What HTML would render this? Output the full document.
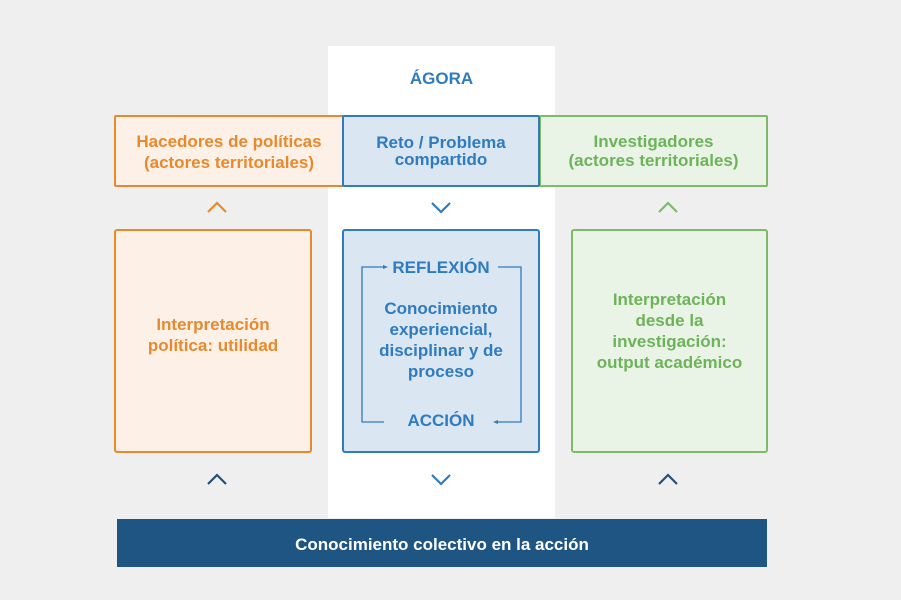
<!DOCTYPE html>
<html><head><style>
body{margin:0;width:901px;height:600px;background:#efefef;position:relative;font-family:"Liberation Sans",sans-serif;font-weight:bold;overflow:hidden}
.a{position:absolute;box-sizing:border-box;display:flex;align-items:center;justify-content:center;text-align:center}
</style></head><body>
<div class="a" style="left:328px;top:46px;width:227px;height:472px;background:#fff"></div>
<div class="a" style="left:328px;top:66px;width:227px;height:26px;color:#2f7bbf;font-size:17px">ÁGORA</div>
<div class="a" style="left:114px;top:115px;width:230px;height:72px;border:2px solid #e8892e;background:#fdf1e7;color:#e8892e;font-size:17px;line-height:21px;border-radius:2px;padding-top:2px">Hacedores de políticas<br>(actores territoriales)</div>
<div class="a" style="left:539px;top:115px;width:229px;height:72px;border:2px solid #7dbb68;background:#eaf4e6;color:#6db35a;font-size:17px;line-height:19px;border-radius:2px">Investigadores<br>(actores territoriales)</div>
<div class="a" style="left:342px;top:115px;width:198px;height:72px;border:2px solid #2f7bbf;background:#dae6f1;color:#2f7bbf;font-size:17px;line-height:17px;border-radius:2px">Reto / Problema<br>compartido</div>
<div class="a" style="left:114px;top:229px;width:198px;height:224px;border:2px solid #e8892e;background:#fdf1e7;color:#e8892e;font-size:17px;line-height:21px;border-radius:3px;padding-bottom:12px">Interpretación<br>política: utilidad</div>
<div class="a" style="left:571px;top:229px;width:197px;height:224px;border:2px solid #7dbb68;background:#eaf4e6;color:#6db35a;font-size:17px;line-height:21px;border-radius:3px;padding-bottom:20px">Interpretación<br>desde la<br>investigación:<br>output académico</div>
<div class="a" style="left:342px;top:229px;width:198px;height:224px;border:2px solid #2f7bbf;background:#dae6f1;color:#2f7bbf;font-size:17px;line-height:21px;border-radius:3px"><span style="position:relative;top:-1px">Conocimiento<br>experiencial,<br>disciplinar y de<br>proceso</span></div>
<div class="a" style="left:342px;top:257px;width:198px;height:22px;color:#2f7bbf;font-size:17px">REFLEXIÓN</div>
<div class="a" style="left:342px;top:410px;width:198px;height:22px;color:#2f7bbf;font-size:17px">ACCIÓN</div>
<svg class="a" style="left:0;top:0" width="901" height="600">
<g fill="none" stroke="#2f7bbf" stroke-width="1.3">
<polyline points="383,267 362,267 362,422 384,422"/>
<polyline points="498,267 521,267 521,422 496,422"/>
</g>
<polygon points="388,267 383,265 383,269" fill="#2f7bbf"/>
<polygon points="493,422 498,420 498,424" fill="#2f7bbf"/>
<g fill="none" stroke-width="2.2">
<polyline points="208,212 217,203 226,212" stroke="#e8892e"/>
<polyline points="432,203 441,212 450,203" stroke="#2f7bbf"/>
<polyline points="659,212 668,203 677,212" stroke="#7dbb68"/>
<polyline points="208,484 217,475 226,484" stroke="#21507a"/>
<polyline points="432,475 441,484 450,475" stroke="#2f7bbf"/>
<polyline points="659,484 668,475 677,484" stroke="#21507a"/>
</g>
</svg>
<div class="a" style="left:117px;top:519px;width:650px;height:48px;background:#1e5582;color:#fff;font-size:17px;padding-top:3px">Conocimiento colectivo en la acción</div>
</body></html>
